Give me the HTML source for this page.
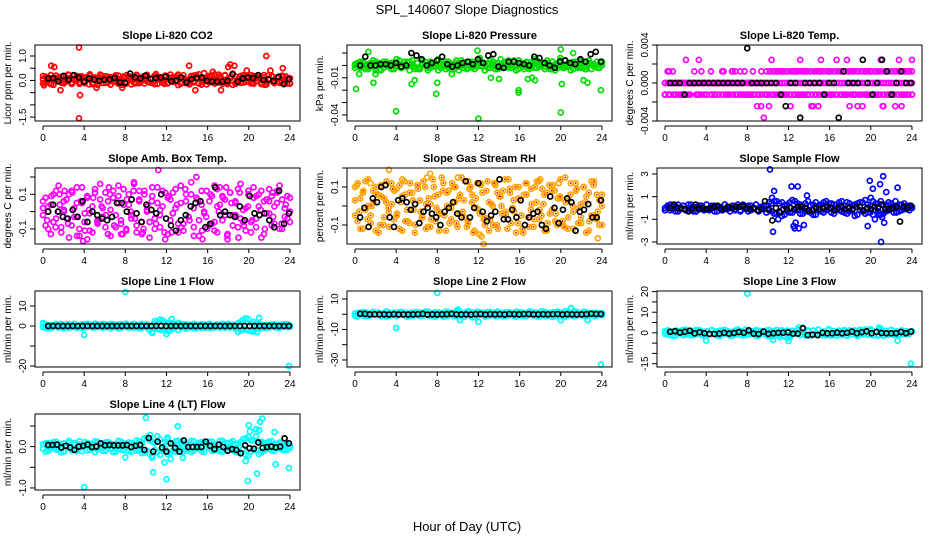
<!DOCTYPE html>
<html><head><meta charset="utf-8"><title>SPL_140607 Slope Diagnostics</title>
<style>
html,body{margin:0;padding:0;background:#fff;}
svg{display:block;font-family:"Liberation Sans",Arial,sans-serif;}
</style></head>
<body>
<svg id="chart" width="936" height="540" viewBox="0 0 936 540" xmlns="http://www.w3.org/2000/svg">
<rect x="0" y="0" width="936" height="540" fill="#fff"/>
<text x="467" y="14" text-anchor="middle" font-size="13">SPL_140607  Slope Diagnostics</text>
<text x="467" y="531" text-anchor="middle" font-size="13">Hour of Day (UTC)</text>
</svg>
<script>
const hourTicks=[0,4,8,12,16,20,24];
// CO2 (x0.01)
const co2ColA=[5,-10,12,-15,8,20,-5,15,-12,10,22,-8,3,18,-14,9,-6,14,25,-10,6,-18,11,2,17,-9,13,-4,21,-13,7,16,-7,10,-16,4,19,-11,12,0,23,-6,8,-15,15,3,-9,20,-12,6,14,-5,24,-14,9,1,-10,18,-3,11,25,-17,7,13,-8,20,-12,4,16,-6,22,-15,10,28,-11,5,18,-9,14,-2,21,-13,8,17,-7,12,-16,3,19,-4,11,-10,15,6,-12,9];
const co2ColB=[-12,15,0,22,-18,6,12,-9,18,-4,9,-14,20,0,-7,16,-11,6,19,-15,12,-3,24,-10,4,15,-17,8,-6,20,-1,11,-13,17,2,-9,23,-5,10,-12,16,-8,5,20,-14,11,0,17,-10,24,-6,12,-19,8,21,-11,3,15,-8,22,-13,9,30,-16,18,-2,25,-9,12,-14,20,-5,9,-18,16,3,-10,21,-6,13,-12,18,-3,10,-15,22,-7,6,17,-11,12,-4,20,-9,8,-13];
const co2ColC=[18,-4,-14,10,2,-8,24,-12,6,16,-2,-16,12,4,20,-10,0,14,-6,-18,22,8,-12,2,16,-4,-10,26,6,-14,12,-2,18,-8,4,-16,20,10,-6,0,14,-12,24,2,-8,16,-14,8,20,-4,-10,12,4,-18,22,-6,10,-2,16,-12];
const co2Blk=[8,10,-3,18,2,22,12,-5,8,3,-2,3,4,10,-8,-10,28,12,8,20,6,10,12,15,-3,0,12,-8,5,10,12,-2,-5,-5,-5,-2,25,-5,8,12,10,22,2,4,-2,15,-15,5];
const co2OutH=[3.5,3.5,3.6,21.7,14.2,0.8,1.1,1.7,18.2,18.0,18.6,23.3,14.8,5.2,17.3,19.8,7.7,0.1,16.5,22.1];
const co2OutV=[1.35,-1.55,-0.6,1.0,0.6,0.6,0.55,-0.4,0.65,0.55,0.6,0.5,-0.4,-0.3,-0.4,0.4,-0.3,-0.2,0.35,0.4];
// Pressure (x0.001)
const presColA=[0,2,-2,3,-3,1,-1,4,-4,2,0,-2,3,1,-3,2,-1,4,-2,0,3,-4,1,-1,2,-3,4,0,-2,3,-1,1,-4,2,0,3,-2,1,-3,4,-1,0,2,-3,3,-2,1,-1,4,0,-4,2,-2,3,1,-3,0,2,-1,4,-2,3,-4,1,0,-3,2,-1,3,-2,4,0,1,-3,2,-1,3,-4,0,2,-2,4,-1,1,-3,3,0,-2,2,-1,4,-3,1,0,-2,3];
const presColB=[-2,1,3,-1,0,-3,2,4,-2,1,-4,3,0,-1,2,-3,5,1,-2,3,-1,0,4,-3,2,-2,1,3,-4,0,2,-1,5,-2,1,-3,3,0,-1,2,-4,4,1,-2,0,3,-3,2,6,-1,1,-2,4,0,-3,2,5,-1,3,-2,0,1,-4,4,2,-1,3,-3,1,5,-2,0,2,-1,4,-3,3,1,-2,6,0,-1,2,-4,3,1,-2,4,0,-3,2,1,-1,3,-2,0];
const presColC=[1,-1,2,-2,0,3,-3,1,-1,2,0,-2,1,3,-1,-3,2,0,-2,1,4,-1,0,-3,2,1,-2,3,-1,0,2,-4,1,3,-2,0,-1,2,4,-3,1,0,-2,3,-1,2,0,-3,1,4,-2,0,2,-1,3,-3,1,0,-2,2];
const presBlk=[0,7,0,0,1,1,0,2,-1,0,10,8,5,0,2,4,7,1,-1,0,2,3,1,5,2,8,9,-1,-2,3,3,2,1,0,7,6,2,0,-2,3,4,2,1,5,3,9,11,3];
const presOutH=[0.1,0.4,1.3,1.8,5.5,5.8,7.9,8.0,4.0,12.0,11.9,15.9,15.9,20.0,20.0,20.1,23.9,13.2,14.0,17.5,22.2,22.6,9.4,2.0,16.8,21.2,17.2];
const presOutV=[-0.019,-0.007,0.011,-0.014,-0.015,-0.012,-0.023,-0.014,-0.037,-0.043,0.012,-0.022,-0.020,-0.038,0.013,-0.015,-0.020,-0.010,-0.011,-0.012,-0.012,-0.014,-0.007,-0.007,-0.011,0.010,-0.010];
// Li-820 Temp (levels of 0.00122)
const tempColA=[0,0,0,0,0,0,0,0,0,0,0,0,0,0,0,0,0,0,0,0,0,0,0,0,0,0,0,0,0,0,0,0,0,0,0,0,0,0,0,0,0,0,0,0,0,0,0,0,0,0,0,0,0,0,0,0,0,0,0,0,0,0,0,0,0,0,0,0,0,0,0,0,0,0,0,0,0,0,0,0,0,0,0,0,0,0,0,0,0,0,0,0,0,0,0,0];
const tempColB=[-1,1,-1,1,-1,0,-1,-1,0,-1,0,0,-1,2,1,0,-1,0,-1,-1,0,0,1,0,-1,0,1,1,0,1,-1,-1,-1,0,-1,0,-1,-2,-3,-1,-2,2,1,1,-1,1,-1,1,-1,1,-1,1,2,-1,1,-1,1,-2,1,-2,2,1,-1,1,-1,1,-1,1,-1,1,2,-2,1,-1,1,-1,-2,1,-1,1,-1,1,-1,2,-2,1,-1,1,-1,1,2,-2,1,-1,1,-1];
const tempColC=[-1,1,-1,0,-1,2,-1,1,-1,0,-1,1,-1,0,1,-1,1,-1,-1,1,-1,1,-2,1,-1,1,-1,1,-1,1,-2,1,-1,1,-1,-2,-1,1,-1,1,-1,2,1,-1,1,-1,-2,1,-1,1,-1,1,-2,1,-1,-2,1,-1,1,2];
const tempColD=[0,0,0,0,0,0,0,0,0,0,0,0,0,0,0,0,0,0,0,0,0,0,0,0,0,0,0,0,0,0,1,1,1,1,1,1,1,1,1,1,1,1,1,1,1,1,1,1,1,1,1,1,1,1,1,1,1,1,1,1,1,1,1,1,1,1,1,1,1,1,1,1,1,1];
const tempColE=[-1,-1,0,-1,-1,0,-1,-1,0,-1,-1,-1,0,-1,-1,-1,-1,-1,-1,-1,-1,-1,-1,-1,-1,-1,-1,-1,-1,-1,-1,-1,-1,-1,-1,-1,-1,-1,-1,-1,-1,-1,-1,-1,-1,-1,-1,-1,-1,-1,-1,-1,-1,-1,-1,-1,-1,-1,-1,-1,-1,-1,-1,-1,-1,-1,-1,-1,-1,-1];
const tempBlk=[0,0,0,-1,0,0,0,0,0,0,0,0,0,0,0,0,3,0,0,0,0,0,0,-1,-2,0,0,-3,0,0,0,0,-1,0,0,-3,1,0,0,0,2,0,-1,0,2,1,-1,0,1,0,0];
// Amb Box Temp (x0.01)
const ambColA=[-2,8,-10,4,-6,12,0,-12,6,-4,10,-8,2,14,-14,5,-1,9,-11,3,13,-7,7,-3,11,-13,1,8,-9,15,-5,4,-10,10,-2,16,-12,6,-6,12,0,-15,9,-4,14,-9,3,11,-13,7,-1,13,-7,5,-11,10,-3,17,-14,8,-5,12,0,-10,6,-7,15,-12,4,9,-2,-16,11,-8,6,13,-4,1,-11,10,-6,14,-9,3,12,-13,7,-1,9,-7,5,15,-10,2,-4,8];
const ambColB=[6,-8,3,-13,10,-4,15,-9,1,7,-15,12,-3,5,-10,14,-6,8,-1,-12,11,-5,16,2,-9,6,-14,12,-2,9,-7,13,-11,4,-4,17,-8,7,-13,10,1,-6,14,-10,5,-2,12,-16,8,-5,11,2,-12,15,-7,6,-3,10,-9,20,-14,4,-1,12,-8,9,-11,3,14,-5,7,-13,11,-2,5,-9,16,-6,2,12,-12,8,-4,10,-15,6,-1,13,-8,3,11,-10,7,-3,9,-6];
const ambColC=[2,-5,9,-9,4,0,-7,11,-3,6,-11,1,8,-6,3,-2,10,-8,5,-13,7,0,-4,12,-10,3,6,-7,1,-12,9,-1,4,-9,13,-5,2,7,-11,-3,10,-6,0,8,-14,5,-2,11,-8,3,-5,9,1,-10,6,-3,12,-7,4,0];
const ambBlk=[0,4,0,-3,-4,1,-3,6,-6,0,-2,-4,-5,-3,5,5,0,7,-1,-6,4,1,-1,10,-4,-8,-11,-5,-2,3,5,6,-9,-7,14,-2,0,-2,-3,3,-5,9,-1,-2,-1,-5,-9,12,-7,-1];
const ambOutH=[3.3,3.9,4.3,11.2,7.6,15.5,19.0,6.4,12.5,2.1,9.7,22.3,8.8,16.9,1.6,17.8];
const ambOutV=[-0.14,-0.17,-0.16,0.24,-0.13,-0.16,-0.15,0.14,-0.12,0.12,-0.12,0.11,0.12,0.13,0.10,0.14];
// Gas Stream RH (x0.01)
const rhColA=[10,-8,4,-12,13,0,-5,8,-13,6,11,-10,2,-3,12,-7,9,-12,5,13,-2,-9,7,-14,11,3,-6,10,-11,1,14,-8,6,-4,12,-13,8,-1,10,-9,4,15,-6,-11,9,2,-13,12,-4,7,-10,13,-7,0,11,-12,5,8,-3,14,-9,3,-14,10,-5,6,12,-11,1,-7,13,-2,9,-13,7,-4,11,-8,4,14,-10,2,-6,12,-12,8,-1,-9,10,5,-13,13,-5,6,-10,0];
const rhColB=[-5,12,-12,7,-2,14,-9,2,10,-14,5,-6,13,-11,1,8,-4,11,-13,6,-8,12,3,-10,9,-3,13,-12,4,-7,10,-1,-13,15,-5,7,-9,12,2,-11,6,-3,13,-8,10,-14,4,-2,11,-7,8,-13,1,12,-10,5,-4,14,-12,7,-1,10,-9,3,-14,12,-6,9,-11,2,13,-5,6,-13,11,-2,8,-10,4,-8,15,-12,6,-3,12,-9,1,10,-14,7,-5,13,-7,3,-10];
const rhColC=[3,-3,8,-7,0,6,-10,4,-1,9,-5,2,-8,7,-2,11,-6,1,-11,5,-3,8,0,-7,10,-4,3,-9,6,-1,12,-6,2,-10,7,0,-5,9,-3,4,-12,6,-2,10,-7,1,-9,8,-4,5,-11,3,0,9,-6,2,-8,11,-3,6];
const rhBlk=[-6,-1,-11,4,2,10,11,-6,-11,3,4,2,-2,1,-9,-3,-1,-4,-6,-10,-3,-1,2,-4,-6,13,-6,-1,12,-3,-8,-5,-3,14,-7,-7,-2,-6,3,-10,-6,-4,-3,-10,-12,5,-1,-9,-2,4,2,-13,-3,-2,1,-6,-6,3];
const rhOutH=[3.3,7.3,7.0,10.0,11.0,12.3,12.5,12.1,23.6,4.6,1.5,18.0,19.8,0.2,13.6];
const rhOutV=[0.19,0.17,0.15,0.15,0.13,-0.16,-0.2,-0.15,-0.17,0.14,0.12,0.14,0.12,0.11,0.12];
// Sample Flow (x0.1)
const sflColA=[0,2,-2,1,-3,3,-1,2,-2,0,3,-3,1,-1,2,-2,3,-1,0,2,-3,1,-2,3,-1,0,2,-2,1,-3,3,-1,2,-2,0,3,-3,1,-1,2,-2,4,-5,6,-3,5,-6,3,-4,7,-2,4,-5,2,-3,6,-4,3,-6,2,-3,5,-2,4,-4,3,-1,5,-3,2,-5,4,-2,3,-6,5,-3,7,-4,2,-6,4,-3,6,-5,3,-2,4,-4,2,-3,3,-1,2,-2,1];
const sflColB=[-2,1,3,-1,2,-3,0,2,-1,3,-2,1,-3,2,0,-1,3,-2,2,-3,1,0,-2,3,1,-3,2,-1,3,-2,1,0,-3,2,-1,3,-2,0,2,-4,5,-3,6,-5,4,-7,2,-3,5,-4,6,-2,3,-5,4,-3,2,-6,5,-2,3,-4,6,-1,4,-5,3,-2,6,-4,5,-3,2,-7,4,-2,5,-5,3,-4,6,-2,4,-6,3,-3,5,-1,2,-4,3,-2,4,-1,2,0];
const sflBlk=[0,3,0,0,-1,-3,-1,3,-1,0,-1,0,1,2,-1,-1,1,0,1,1,2,0,-1,0,-2,-1,6,-1,-11,0,-4,-1,-1,0,-1,1,1,0,-2,-2,0,-1,0,1,0,-2,0,1,-1,0,-1,1,1,-2,0,-1,1,0,3,-1,-1,0,1,-12,1,0,2];
const sflOutH=[10.2,10.6,10.5,12.3,12.9,12.5,12.7,13.0,13.8,13.5,12.6,19.9,20.2,20.0,20.9,21.2,21.5,21.0,22.6,19.7,20.8,21.3,22.4,20.4,10.4,11.0,21.1];
const sflOutV=[3.4,1.5,-2.1,1.9,1.9,-1.6,-1.3,-1.8,1.1,-1.5,-1.8,2.4,1.7,0.9,2.1,2.8,1.4,-3.0,1.8,-1.6,-0.6,-1.3,0.6,-1.0,0.9,-1.0,-0.8];
// Line 1 Flow (x0.1)
const l1ColA=[12,-8,5,-11,3,8,-6,10,-4,7,-9,2,11,-5,4,-10,9,-2,6,-7,12,-3,5,-9,8,-1,10,-6,3,-11,9,-4,7,-8,2,11,-5,6,-10,4,-7,-20,-30,25,-15,32,-20,18,-25,15,-12,8,-20,10,-5,7,-9,4,-11,6,-3,9,-8,5,-10,2,-6,8,-4,11,-9,3,-7,6,-12,14,-22,30,-18,35,-25,20,-15,9,-10,5,-8,6,-4,7,-9,3,-5,8,-6,2];
const l1ColB=[-6,9,-11,4,-3,10,-8,6,-12,2,8,-5,9,-10,3,7,-7,11,-2,5,-9,8,-4,10,-6,2,-11,9,-3,7,-8,4,12,-5,6,-9,3,-12,10,-4,8,-6,-35,10,20,-18,28,-10,15,-22,12,-5,16,-8,9,-14,6,-3,10,-12,4,-8,7,-5,11,-10,3,6,-9,8,-2,10,-7,5,-11,-30,20,-15,38,-22,15,-28,10,-12,6,-9,4,-7,8,-3,5,-10,7,-2,9,-4];
const l1Blk=[0,0,0,0,0,0,0,0,0,0,0,0,0,0,0,0,0,0,0,0,0,0,0,0,0,0,0,0,0,0,0,0,0,0,0,0,0,0,0,0,0,0,0,0,0,0,0,0,0,0];
const l1OutH=[8.0,23.9,4.0,12.0,12.5,21.0,20.8,0.0];
const l1OutV=[17,-20,-4.5,-4,3.5,4,-3,1.5];
// Line 2 Flow (x0.1)
const l2ColA=[5,-15,10,-8,12,-12,3,15,-5,8,-14,6,18,-10,2,11,-7,14,-3,9,-16,7,-11,13,-4,10,-9,16,-6,4,-13,12,-2,8,-17,15,-8,5,-12,20,-10,7,-18,14,-6,11,-20,16,-4,9,-15,12,-7,6,-13,17,-3,10,-11,14,-5,8,-16,13,-9,4,-12,18,-6,11,-14,9,-2,15,-10,7,-18,12,-5,10,-15,20,-8,6,-13,16,-4,9,-11,14,-7,5,-12,10,-3,8];
const l2ColB=[-10,8,-4,14,-13,6,-8,16,-2,11,-9,4,-15,12,-6,9,-12,3,15,-8,7,-14,10,-5,13,-11,6,-3,17,-10,8,-16,11,-7,5,-13,14,-4,9,-11,22,-14,8,-5,16,-20,10,-8,13,-3,9,-12,15,-6,11,-9,4,-14,12,-7,8,-10,16,-4,13,-12,6,-3,14,-9,10,-15,20,-11,7,-5,12,-13,18,-8,9,-16,11,-4,13,-10,6,-7,15,-12,8,-3,10,-9,5,-6];
const l2Blk=[3,2,-1,0,-1,-1,-2,0,-2,-1,-2,-1,0,2,-3,-1,-2,-1,0,2,-1,-2,-1,-3,0,1,-2,0,-1,0,-2,1,0,-1,1,1,-1,-1,0,-1,0,1,-2,0,-1,-2,-1,0,3,1,1];
const l2OutH=[8.0,4.0,23.9,12.0,20.0,22.6,10.0,21.0,11.0,10.2,21.3];
const l2OutV=[14,-9,-33,-5,-4,-4,3,4,2,-4,2];
// Line 3 Flow (x0.1)
const l3ColA=[-5,12,-10,6,-14,9,-3,15,-8,4,-12,10,-6,14,-11,2,8,-9,13,-4,7,-15,11,-2,9,-13,5,-7,16,-10,3,-11,12,-5,8,-14,10,-1,6,-12,14,-18,9,-6,-20,12,-15,7,-22,10,-4,13,-10,25,-8,6,-14,11,-3,15,-9,5,-12,18,-6,8,-13,10,-2,14,-11,7,-5,12,-15,9,-8,16,-4,11,-12,6,-9,20,-14,10,-3,13,-10,7,-6,12,-8,4,-5,9];
const l3ColB=[8,-9,3,-14,11,-4,7,-12,15,-6,2,-10,13,-3,9,-15,6,-8,12,-1,-11,10,-7,14,-5,4,-13,11,-2,8,-12,16,-9,5,-6,13,-14,9,-3,11,-16,7,-10,14,-8,6,-18,11,-12,8,-5,15,-9,3,-13,12,-7,10,-4,16,-11,5,-8,13,-14,9,-2,11,-10,7,-15,12,-6,8,-12,15,-4,10,-9,18,-11,6,-13,12,-3,9,-10,14,-7,5,-12,11,-5,8,-3,6];
const l3Blk=[5,8,1,5,10,-3,3,-2,-5,-6,-4,0,-4,-1,4,0,12,-4,-6,6,-5,-2,0,0,2,-4,-4,22,-11,-9,-11,0,-2,-2,1,-2,0,6,-2,3,7,-2,4,-1,-2,-2,-2,4,-2,6];
const l3OutH=[8.0,23.9,4.0,12.0,10.5,22.6,13.0,11.9,20.8];
const l3OutV=[19,-15,-3.8,-4,-3.5,-3.8,2.5,-2.5,2.5];
// Line 4 Flow (x0.01)
const l4ColA=[-5,8,-10,4,-3,12,-8,6,-12,2,14,-6,9,-11,5,-2,11,-9,7,-4,13,-7,3,-10,10,-1,8,-13,6,-5,12,-8,4,-11,9,-3,15,-10,7,-14,22,-18,12,-8,25,-20,10,-5,18,-15,8,-12,14,-6,11,-9,6,-13,13,-4,9,-11,7,-2,12,-10,5,-7,14,-12,8,-3,10,-9,6,-14,11,-5,20,-22,15,-8,25,-18,12,-10,9,-6,13,-11,7,-4,10,-8,5,-3];
const l4ColB=[6,-12,9,-4,11,-7,3,-14,8,-2,10,-9,5,-6,13,-11,2,9,-8,6,-13,12,-3,7,-10,11,-5,4,-12,14,-7,8,-2,10,-12,5,-9,13,-16,20,-10,16,-22,9,-14,18,-6,12,-18,7,-10,13,-3,9,-12,6,-7,14,-10,4,-5,11,-13,8,-2,12,-9,5,-11,14,-6,9,-4,13,-12,7,-15,18,-20,24,-12,15,-8,11,-14,9,-5,12,-9,6,-3,10,-7,4,-8,2];
const l4Blk=[4,4,5,-2,2,-2,-8,0,2,5,-1,0,8,3,4,3,3,3,4,-1,2,4,-8,21,-12,12,-2,-12,8,-3,-12,15,-1,-1,-1,-1,12,2,-6,5,-1,-10,-6,-8,-16,3,-4,-5,10,-3,-1,0,-2,0,20,8];
const l4OutH=[4.0,8.0,10.0,10.4,10.7,12.0,11.8,12.4,12.1,13.1,13.6,10.6,19.9,20.1,20.0,20.8,21.1,21.3,20.7,22.6,23.9,19.7,21.0,22.5,20.3];
const l4OutV=[-0.98,-0.26,0.7,0.28,-0.62,-0.79,-0.38,-0.3,0.22,0.49,-0.27,-0.27,-0.83,0.37,0.52,-0.65,0.6,0.68,0.42,-0.43,-0.52,-0.35,0.4,0.35,0.15];

const NS='http://www.w3.org/2000/svg';
const svg=document.getElementById('chart');
function mk(tag,attrs,parent){const e=document.createElementNS(NS,tag);for(const k in attrs)e.setAttribute(k,attrs[k]);(parent||svg).appendChild(e);return e;}

const cfg=[
 {key:'co2',title:'Slope Li-820 CO2',ylab:'Licor ppm per min.',c:0,r:0,ymin:-1.66,ymax:1.45,ticks:[1,0.5,0,-0.5,-1,-1.5],labs:['1.0','','0.0','','','-1.5'],col:'#ff0000',cols:[co2ColA,co2ColB,co2ColC],sc:0.01,blk:co2Blk,oh:co2OutH,ov:co2OutV},
 {key:'pressure',title:'Slope Li-820 Pressure',ylab:'kPa per min.',c:1,r:0,ymin:-0.0449,ymax:0.0165,ticks:[0.01,0,-0.01,-0.02,-0.03,-0.04],labs:['','','-0.01','','','-0.04'],col:'#00dd00',cols:[presColA,presColB,presColC],sc:0.001,blk:presBlk,oh:presOutH,ov:presOutV},
 {key:'temp',title:'Slope Li-820 Temp.',ylab:'degrees C per min.',c:2,r:0,ymin:-0.004,ymax:0.004,ticks:[0.004,0.002,0,-0.002,-0.004],labs:['0.004','','0.000','','-0.004'],col:'#ff00ff',cols:[tempColA,tempColB,tempColC,tempColD,tempColE],sc:0.00122,blk:tempBlk,oh:[],ov:[]},
 {key:'amb',title:'Slope Amb. Box Temp.',ylab:'degrees C per min.',c:0,r:1,ymin:-0.187,ymax:0.252,ticks:[0.2,0.1,0,-0.1],labs:['','0.1','','-0.1'],col:'#ff00ff',cols:[ambColA,ambColB,ambColC],sc:0.01,blk:ambBlk,oh:ambOutH,ov:ambOutV},
 {key:'rh',title:'Slope Gas Stream RH',ylab:'percent per min.',c:1,r:1,ymin:-0.2,ymax:0.2,ticks:[0.2,0.1,0,-0.1],labs:['','0.1','','-0.1'],col:'#ffa500',cols:[rhColA,rhColB,rhColC],sc:0.01,blk:rhBlk,oh:rhOutH,ov:rhOutV,inner:'#ff0000'},
 {key:'sample',title:'Slope Sample Flow',ylab:'ml/min per min.',c:2,r:1,ymin:-3.18,ymax:3.53,ticks:[3,1,-1,-3],labs:['3','1','-1','-3'],col:'#0000ff',cols:[sflColA,sflColB],sc:0.1,blk:sflBlk,oh:sflOutH,ov:sflOutV},
 {key:'line1',title:'Slope Line 1 Flow',ylab:'ml/min per min.',c:0,r:2,ymin:-20.5,ymax:17.5,ticks:[10,0,-10,-20],labs:['10','0','','-20'],col:'#00ffff',cols:[l1ColA,l1ColB],sc:0.1,blk:l1Blk,oh:l1OutH,ov:l1OutV},
 {key:'line2',title:'Slope Line 2 Flow',ylab:'ml/min per min.',c:1,r:2,ymin:-34.6,ymax:15.2,ticks:[10,0,-10,-20,-30],labs:['10','','-10','','-30'],col:'#00ffff',cols:[l2ColA,l2ColB],sc:0.1,blk:l2Blk,oh:l2OutH,ov:l2OutV},
 {key:'line3',title:'Slope Line 3 Flow',ylab:'ml/min per min.',c:2,r:2,ymin:-16.6,ymax:20.3,ticks:[20,15,10,5,0,-5,-10,-15],labs:['20','','10','','0','','','-15'],col:'#00ffff',cols:[l3ColA,l3ColB],sc:0.1,blk:l3Blk,oh:l3OutH,ov:l3OutV},
 {key:'line4',title:'Slope Line 4 (LT) Flow',ylab:'ml/min per min.',c:0,r:3,ymin:-1.05,ymax:0.79,ticks:[0.5,0,-0.5,-1],labs:['','0.0','','-1.0'],col:'#00ffff',cols:[l4ColA,l4ColB],sc:0.01,blk:l4Blk,oh:l4OutH,ov:l4OutV}
];
const colLeft=[35,347,657], rowTop=[45,168,291,414], W=265, H=76;

cfg.forEach(p=>{
  const L=colLeft[p.c], T=rowTop[p.r];
  const g=mk('g',{});
  
  
  const xs=h=>L+8+h*10.29;
  const ys=v=>T+(p.ymax-v)/(p.ymax-p.ymin)*H;
  const t=mk('text',{x:L+W/2,y:T-6,'text-anchor':'middle','font-size':'11','font-weight':'bold'},g);
  t.textContent=p.title;
  
  
  const yl=mk('text',{x:0,y:0,'text-anchor':'middle','font-size':'10',transform:`translate(${L-24},${T+H/2}) rotate(-90)`},g);
  yl.textContent=p.ylab;
  
  
  const pts=mk('g',{fill:'none','stroke-width':'1.7'},g);
  
  
  p.cols.forEach(arr=>{
    arr.forEach((v,i)=>{
      const h=i*24/(arr.length-1);
      const y=Math.max(T+2,Math.min(T+H-2,ys(v*p.sc)));
      mk('circle',{cx:xs(h),cy:y,r:2.5,stroke:p.col},pts);
      if(p.inner) mk('circle',{cx:xs(h),cy:y,r:0.9,fill:p.inner,stroke:'none'},pts);
    });
  });
  p.oh.forEach((h,i)=>{
    mk('circle',{cx:xs(h),cy:ys(p.ov[i]),r:2.5,stroke:p.col},pts);
  });
  p.blk.forEach((v,i)=>{
    const h=0.5+i*23.4/(p.blk.length-1);
    const y=Math.max(T+2,Math.min(T+H-2,ys(v*p.sc)));
    mk('circle',{cx:xs(h),cy:y,r:2.5,stroke:'#000'},pts);
  });
  const b=mk('rect',{x:L,y:T,width:W,height:H,fill:'none',stroke:'#000','stroke-width':'1'},g);
  
  
  p.ticks.forEach((tv,i)=>{
    const y=ys(tv);
    mk('line',{x1:L-5,x2:L,y1:y,y2:y,stroke:'#000'},g);
    if(p.labs[i]){
      const tl=mk('text',{x:0,y:0,'text-anchor':'middle','font-size':'10',transform:`translate(${L-9},${y}) rotate(-90)`},g);
      tl.textContent=p.labs[i];
      
      
    }
  });
  const by=T+H+5;
  mk('line',{x1:xs(0),x2:xs(24),y1:by,y2:by,stroke:'#000'},g);
  hourTicks.forEach(h=>{
    mk('line',{x1:xs(h),x2:xs(h),y1:by,y2:by+4,stroke:'#000'},g);
    const xl=mk('text',{x:xs(h),y:T+H+20,'text-anchor':'middle','font-size':'10'},g);
    xl.textContent=String(h);
    
    
  });
});
</script>
</body></html>
